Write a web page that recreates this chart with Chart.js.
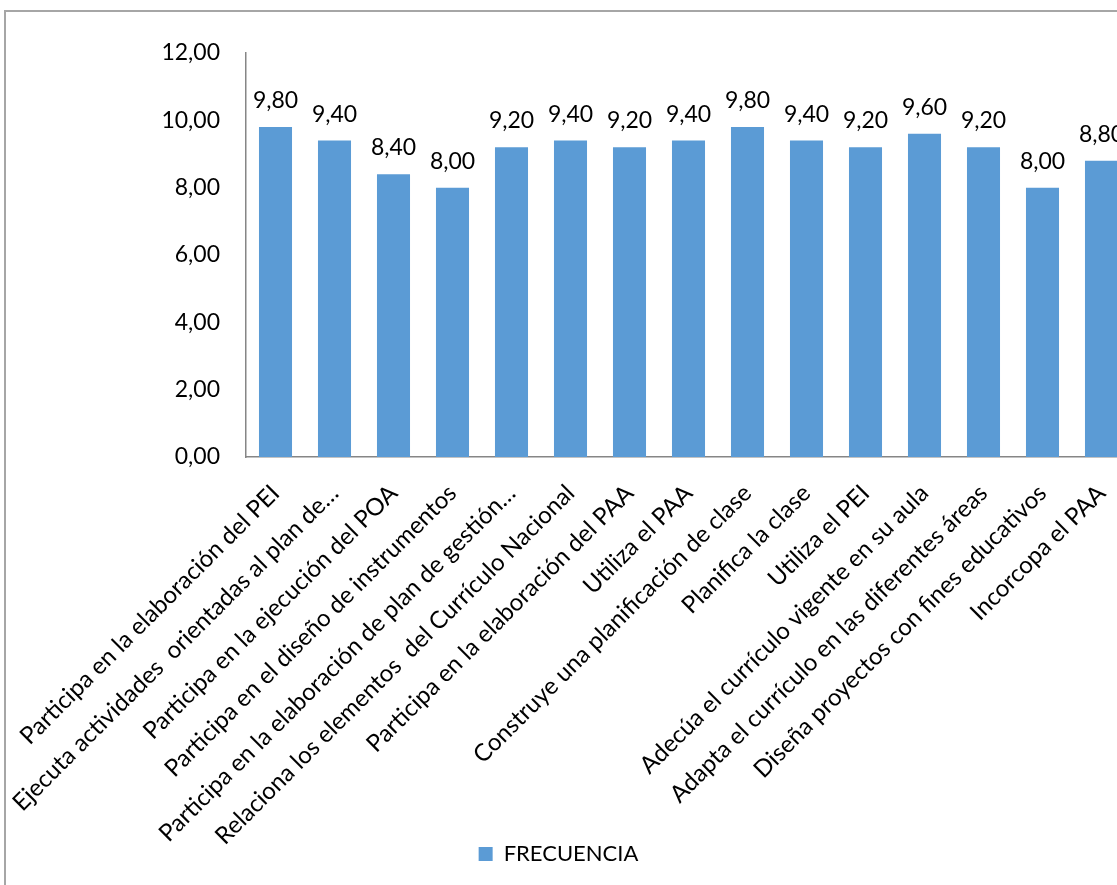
<!DOCTYPE html>
<html><head><meta charset="utf-8">
<script src="https://cdn.jsdelivr.net/npm/chart.js@4.4.1/dist/chart.umd.min.js"></script>
<style>
html,body{margin:0;padding:0;background:#fff;overflow:hidden;width:1117px;height:885px;}
#frame{position:absolute;left:4px;top:10px;width:1300px;height:1000px;border:2px solid #a6a6a6;box-sizing:border-box;}
#wrap{position:absolute;left:0;top:0;width:1145px;height:885px;}
</style></head><body>
<div id="frame"></div>
<div id="wrap"><canvas id="c"></canvas></div>
<script>
const categories = [
  'Participa en la elaboración del PEI',
  'Ejecuta actividades  orientadas al plan de…',
  'Participa en la ejecución del POA',
  'Participa en el diseño de instrumentos',
  'Participa en la elaboración de plan de gestión…',
  'Relaciona los elementos  del Currículo Nacional',
  'Participa en la elaboración del PAA',
  'Utiliza el PAA',
  'Construye una planificación de clase',
  'Planifica la clase',
  'Utiliza el PEI',
  'Adecúa el currículo vigente en su aula',
  'Adapta el currículo en las diferentes áreas',
  'Diseña proyectos con fines educativos',
  'Incorcopa el PAA'
];
const frecuencia = [9.80, 9.40, 8.40, 8.00, 9.20, 9.40, 9.20, 9.40, 9.80, 9.40, 9.20, 9.60, 9.20, 8.00, 8.80];
const seriesName = 'FRECUENCIA';
const yMin = 0, yMax = 12, yStep = 2;

const fmt = v => Number(v).toFixed(2).replace('.', ',');
const FONT = 'Lato';

const valueLabels = {
  id: 'valueLabels',
  afterDatasetsDraw(chart) {
    const ctx = chart.ctx;
    const meta = chart.getDatasetMeta(0);
    const data = chart.data.datasets[0].data;
    ctx.save();
    ctx.font = '23px ' + FONT;
    ctx.fillStyle = '#000';
    ctx.textAlign = 'center';
    ctx.textBaseline = 'alphabetic';
    meta.data.forEach((bar, i) => {
      ctx.fillText(fmt(data[i]), bar.x, bar.y - 19);
    });
    ctx.restore();
  }
};

const layoutTweaks = {
  id: 'layoutTweaks',
  afterLayout(chart) {
    const l = chart.legend;
    if (l) { l.left -= 7; l.right -= 7; }
    const x = chart.scales.x;
    if (x) { x.bottom = chart.height; }
  }
};

Chart.defaults.font.family = FONT;
Chart.defaults.color = '#000';

new Chart(document.getElementById('c'), {
  type: 'bar',
  data: {
    labels: categories,
    datasets: [{
      label: seriesName,
      data: frecuencia,
      backgroundColor: '#5B9BD5',
      borderWidth: 0,
      barPercentage: 1,
      categoryPercentage: 0.56
    }]
  },
  options: {
    responsive: true,
    maintainAspectRatio: false,
    animation: false,
    layout: { padding: { top: 53, right: 14, bottom: 10, left: 0 } },
    plugins: {
      legend: {
        position: 'bottom',
        labels: { boxWidth: 14, boxHeight: 14, padding: 10, font: { size: 22 } }
      },
      tooltip: { enabled: false }
    },
    scales: {
      y: {
        min: yMin, max: yMax,
        ticks: { stepSize: yStep, padding: 26, font: { size: 23 }, callback: v => fmt(v) },
        grid: { display: false, drawTicks: false },
        border: { display: true, color: '#868686', width: 1.5 },
        afterFit(scale) { scale.width = 246; }
      },
      x: {
        ticks: { maxRotation: 45, minRotation: 45, autoSkip: false, padding: 22, font: { size: 24 } },
        grid: { display: false, drawTicks: false },
        border: { display: true, color: '#868686', width: 1.5 },
        afterFit(scale) { scale.height = 376; scale.paddingLeft = 0; scale.paddingRight = 0; }
      }
    }
  },
  plugins: [valueLabels, layoutTweaks]
});
</script>
</body></html>
